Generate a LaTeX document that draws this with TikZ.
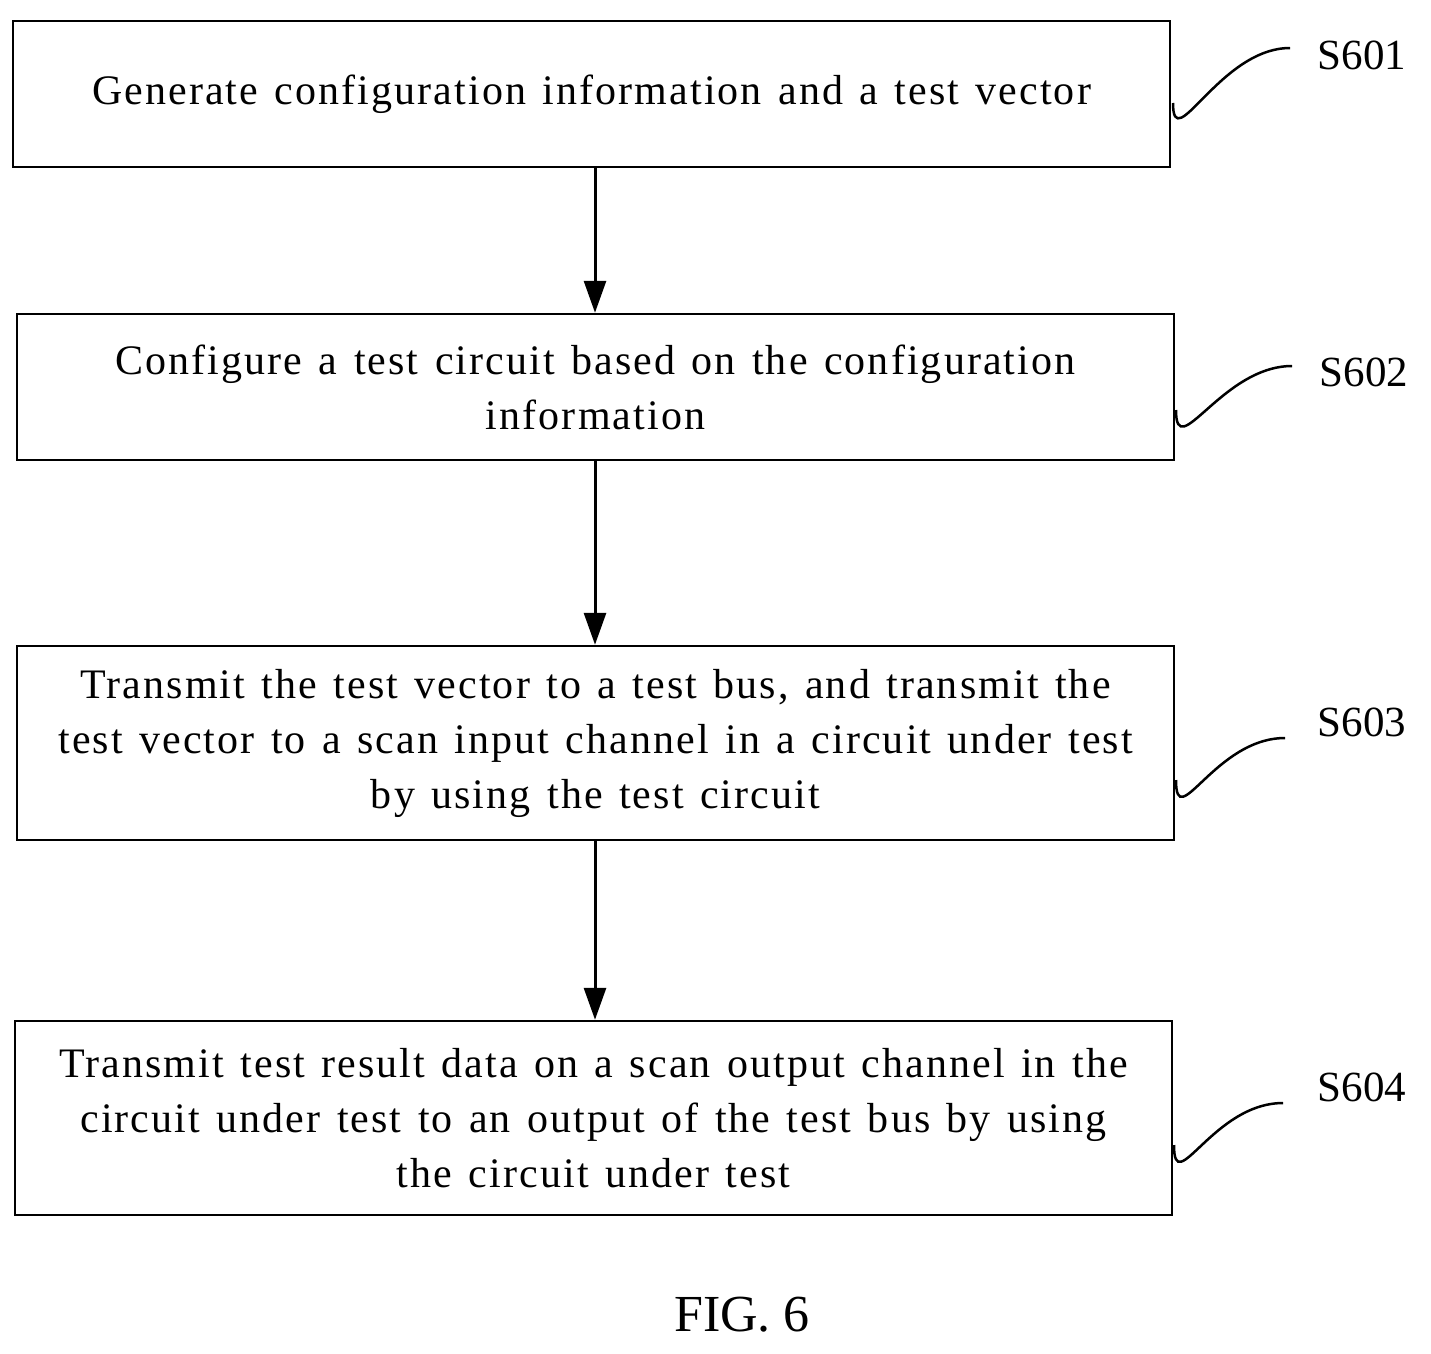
\documentclass[tikz,border=0pt]{standalone}
\usepackage{fontspec}
\setmainfont{Liberation Serif}
\newfontfamily\spaced[LetterSpace=5,WordSpace=1.3]{Liberation Serif}
\usetikzlibrary{arrows.meta}
\begin{document}
\begin{tikzpicture}[x=1pt,y=-1pt,
  box/.style={draw,line width=2.5pt,inner sep=0pt,align=center,font=\spaced\fontsize{42}{55}\selectfont},
  arr/.style={line width=3pt,-{Triangle[width=22pt,length=32pt]}},
  lead/.style={line width=2.5pt},
  lab/.style={font=\fontsize{43}{48}\selectfont}]
\useasboundingbox (0,0) rectangle (1431,1353);
\node[box,minimum width=1157pt,minimum height=146pt] (b1) at (591.5,94) {Generate configuration information and a test vector};
\node[box,minimum width=1157pt,minimum height=146pt] (b2) at (595.5,387) {Configure a test circuit based on the configuration\\information};
\node[box,minimum width=1157pt,minimum height=194pt] (b3) at (595.5,743) {Transmit the test vector to a test bus, and transmit the\\test vector to a scan input channel in a circuit under test\\by using the test circuit};
\node[box,minimum width=1157pt,minimum height=194pt] (b4) at (593.5,1118) {Transmit test result data on a scan output channel in the\\circuit under test to an output of the test bus by using\\the circuit under test};
\draw[arr] (b1.south -| 595,0) -- (b2.north -| 595,0);
\draw[arr] (b2.south -| 595,0) -- (b3.north -| 595,0);
\draw[arr] (b3.south -| 595,0) -- (b4.north -| 595,0);
\node[lab] (l1) at (1362,55) {S601};
\node[lab] (l2) at (1364,372) {S602};
\node[lab] (l3) at (1362,722) {S603};
\node[lab] (l4) at (1362,1087) {S604};
\coordinate (c1) at (1173,103); \coordinate (d1) at (1290,48);
\coordinate (c2) at (1176,410); \coordinate (d2) at (1292,366);
\coordinate (c3) at (1176,780); \coordinate (d3) at (1285,738);
\coordinate (c4) at (1174,1145); \coordinate (d4) at (1283,1103);
\foreach \i in {1,2,3,4}{
  \draw[lead] (c\i) .. controls ([yshift=-55pt]c\i) and ([xshift=-70pt]d\i) .. (d\i);
}
\node[font=\fontsize{52}{60}\selectfont] (fig) at (742,1315) {FIG. 6};
\end{tikzpicture}
\end{document}
